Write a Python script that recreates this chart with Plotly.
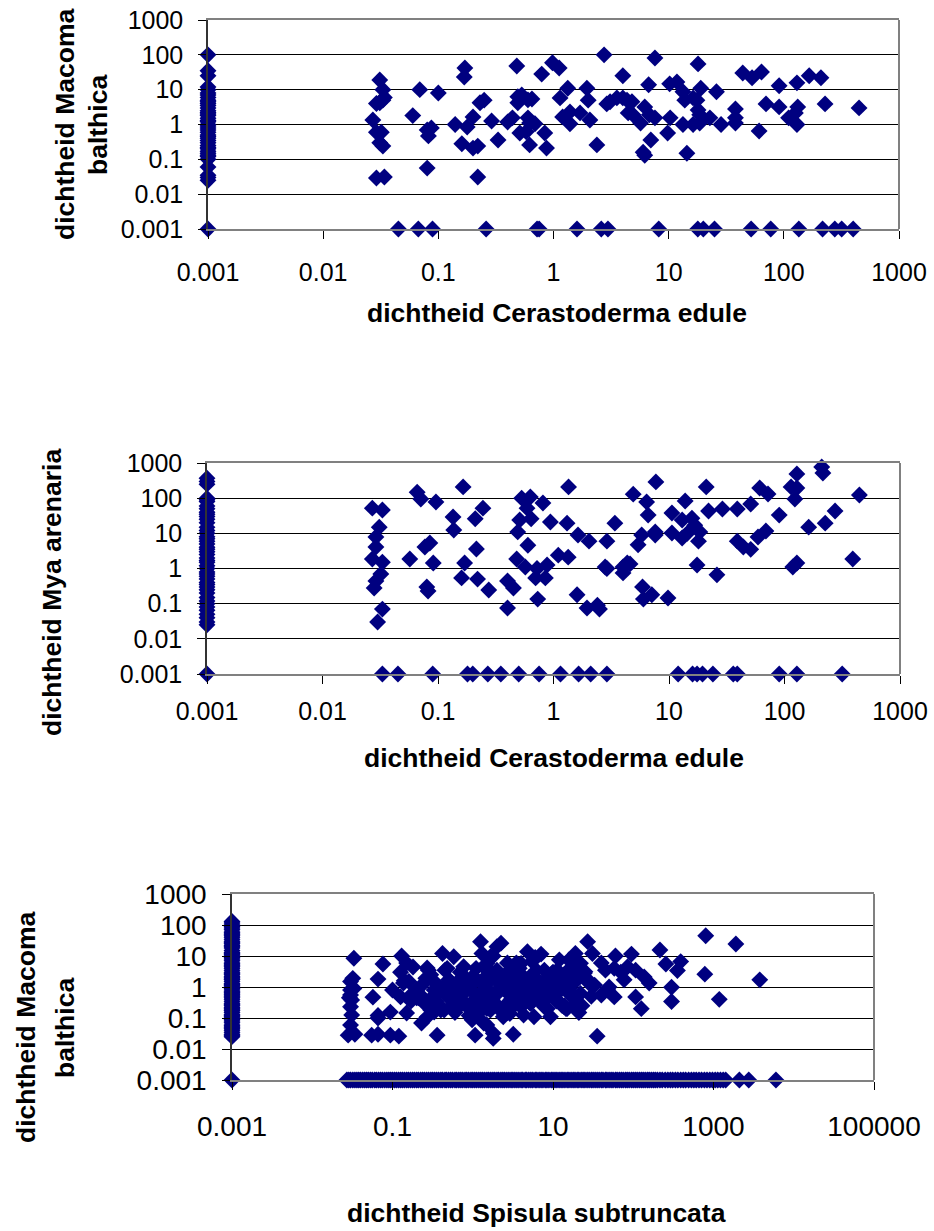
import plotly.graph_objects as go

W, H = 934, 1231
NAVY = "#000080"
FONT = "Liberation Sans, Arial, sans-serif"

# ---------------- Plot 1: Cerastoderma edule vs Macoma balthica ----------------
p1_zero_x_y = [100, 35, 25, 12, 10, 8, 7, 6, 5, 4.5, 4, 3.5, 3, 2.5, 2.2, 2, 1.8, 1.5, 1.3,
               1.2, 1, 0.9, 0.8, 0.7, 0.6, 0.5, 0.45, 0.4, 0.35, 0.3, 0.25, 0.22, 0.2, 0.17,
               0.15, 0.13, 0.12, 0.1, 0.06, 0.035, 0.03, 0.025, 0.001]
p1_zero_y_x = [0.045, 0.067, 0.089, 0.26, 0.72, 0.75, 1.6, 2.6, 2.97, 8.2, 17.9, 20, 25, 52,
               77, 135, 217, 277, 318, 400]
p1_x = [0.031, 0.033, 0.034, 0.033, 0.029, 0.031, 0.027, 0.029, 0.032, 0.031, 0.033, 0.029, 0.034,
        0.06, 0.069, 0.1, 0.08, 0.087, 0.082, 0.08,
        0.14, 0.178, 0.16, 0.17, 0.168, 0.2, 0.2, 0.22, 0.22, 0.23, 0.25, 0.29, 0.33,
        0.48, 0.4, 0.44, 0.49, 0.53, 0.49, 0.6, 0.65, 0.51, 0.58, 0.62, 0.69, 0.6, 0.62, 0.84,
        0.87, 0.79, 0.98, 1.12,
        1.33, 1.14, 1.39, 1.2, 1.39, 1.7, 1.95, 2.0, 2.07, 2.38, 2.75,
        2.9, 3.1, 3.55, 4.0, 4.35, 4.8, 4.45, 4.9, 4.0, 5.7, 6.2, 6.2, 6.0, 7.0, 6.7, 6.8, 7.6,
        7.6, 9.8, 10.2, 11.8, 10.3,
        13.3, 13.8, 16.3, 17.6, 18, 18.6, 13.3, 16.3, 22.8, 18.6, 14.4, 18, 19, 26, 28.5,
        38, 38, 38, 44, 53, 64, 61, 70, 91, 91, 110, 130, 132, 130, 126, 166, 210, 228, 450]
p1_y = [19, 10, 6, 5, 4, 4.2, 1.35, 0.6, 0.6, 0.3, 0.24, 0.029, 0.031,
        1.8, 10, 8, 0.7, 0.8, 0.47, 0.056,
        1.0, 0.85, 0.28, 42, 23, 1.65, 0.21, 0.24, 0.031, 4.2, 5, 1.26, 0.36,
        48, 1.18, 1.55, 6.3, 7.0, 4.2, 5.1, 5.4, 0.57, 0.62, 1.1, 1.05, 1.55, 0.26, 0.57,
        0.21, 28, 59, 42,
        11, 5.8, 2.3, 1.65, 1.05, 2.15, 11, 5, 1.35, 0.26, 100,
        3.9, 4.5, 5.8, 5.8, 5.0, 4.5, 2.15, 1.9, 25, 1.1, 3.2, 0.13, 0.16, 0.36, 13.8, 1.9, 1.55,
        81, 0.57, 14.7, 16.7, 1.55,
        8.7, 5.0, 5.8, 5.0, 2.6, 1.9, 1.0, 1.0, 1.55, 1.1, 0.15, 55, 11, 8.7, 1.0,
        2.8, 1.55, 1.1, 30, 22, 32, 0.65, 3.9, 13, 3.2, 1.55, 15.7, 3.2, 1.0, 2.15, 25, 22, 3.9, 3.0]

# ---------------- Plot 2: Cerastoderma edule vs Mya arenaria ----------------
p2_zero_x_y = [370, 300, 250, 100, 90, 80, 60, 50, 40, 35, 30, 25, 20, 15, 12, 10, 8, 7, 6, 5, 4,
               3.5, 3, 2.5, 2, 1.7, 1.5, 1.2, 1, 0.8, 0.7, 0.6, 0.5, 0.4, 0.35, 0.3, 0.25, 0.2,
               0.15, 0.12, 0.1, 0.08, 0.065, 0.05, 0.04, 0.03, 0.025, 0.001]
p2_zero_y_x = [0.033, 0.045, 0.09, 0.18, 0.2, 0.27, 0.35, 0.5, 0.75, 1.15, 1.65, 2.1, 2.9, 12,
               16, 17.5, 19.5, 24, 36, 39, 90, 128, 316]
p2_x = [0.027, 0.033, 0.031, 0.029, 0.029, 0.027, 0.033, 0.032, 0.029, 0.028, 0.033, 0.03,
        0.066, 0.071, 0.096, 0.057, 0.077, 0.085, 0.091, 0.08, 0.082,
        0.165, 0.135, 0.137, 0.245, 0.21, 0.215, 0.17, 0.16, 0.22, 0.275, 0.4, 0.45, 0.4,
        0.53, 0.63, 0.59, 0.64, 0.51, 0.49, 0.6, 0.48, 0.57, 0.72, 0.7, 0.85, 0.73, 0.81, 0.94,
        0.88, 1.1,
        1.35, 1.31, 1.34, 1.63, 2.03, 1.6, 1.95, 2.5, 2.4, 2.9, 3.4, 2.8, 2.9, 4.0, 4.35, 4.6,
        4.0, 4.9, 6.4, 6.6, 5.4, 5.8, 7.6, 7.6, 7.7, 5.9, 6.0, 7.1, 9.8, 10.6, 10.6,
        13.8, 13, 15.8, 16.7, 18.5, 18, 14.4, 13, 17.5, 21, 22, 29, 26, 39, 39, 44, 51, 51,
        61, 72, 59, 69, 90, 114, 128, 128, 123, 118, 128, 162, 210, 215, 225, 274, 390, 445]
p2_y = [52, 46, 15, 7.9, 4.1, 1.86, 1.5, 0.7, 0.44, 0.28, 0.07, 0.03,
        148, 95, 78, 1.86, 4.1, 5.3, 1.43, 0.3, 0.23,
        209, 29, 12.4, 52, 26, 3.6, 1.43, 0.54, 0.5, 0.245, 0.44, 0.28, 0.075,
        100, 108, 52, 26, 24, 11, 4.6, 1.86, 1.1, 1.0, 0.54, 0.54, 0.135, 73, 21,
        1.26, 2.4,
        209, 19.5, 2.1, 9, 6, 0.18, 0.075, 0.07, 0.09, 6, 19.5, 1.1, 1.0, 1.1, 1.43, 1.35,
        0.75, 130, 78, 33, 4.7, 9, 11, 9, 290, 0.3, 0.135, 0.18, 0.145, 38, 10.2,
        83, 24, 27, 17, 11, 6, 10, 7.4, 1.26, 209, 43, 49, 0.66, 49, 6, 4.1, 3.5, 68,
        195, 132, 7.9, 11.7, 33, 209, 195, 490, 95, 1.1, 1.43, 15, 770, 520, 19.5, 43, 1.86, 123]

# ---------------- Plot 3: Spisula subtruncata vs Macoma balthica ----------------
p3_zero_x_y = [130, 115, 100, 90, 80, 70, 60, 55, 50, 45, 40, 35, 30, 27, 25, 22, 20, 18, 15, 13,
               12, 11, 10, 9, 8, 7, 6, 5.5, 5, 4.5, 4, 3.5, 3, 2.7, 2.5, 2.2, 2, 1.8, 1.7, 1.5,
               1.3, 1.2, 1.1, 1, 0.9, 0.8, 0.7, 0.65, 0.6, 0.55, 0.5, 0.45, 0.4, 0.35, 0.3, 0.27,
               0.25, 0.22, 0.2, 0.18, 0.17, 0.15, 0.13, 0.12, 0.11, 0.1, 0.09, 0.08, 0.07, 0.06,
               0.055, 0.05, 0.045, 0.04, 0.035, 0.03, 0.028, 0.025, 0.001]
p3_zero_y_x = [0.027, 0.0285, 0.03, 0.032, 0.034, 0.036, 0.038, 0.04, 0.0425, 0.045, 0.0475,
               0.05, 0.053, 0.056, 0.06, 0.063, 0.067, 0.071, 0.075, 0.08, 0.085, 0.09, 0.095,
               0.1, 0.106, 0.112, 0.119, 0.126, 0.133, 0.141, 0.15, 0.158, 0.168, 0.178, 0.188,
               0.2, 0.21, 0.224, 0.237, 0.25, 0.266, 0.282, 0.3, 0.316, 0.335, 0.355, 0.376, 0.4,
               0.42, 0.45, 0.47, 0.5, 0.53, 0.56, 0.6, 0.63, 0.67, 0.71, 0.75, 0.8, 0.84, 0.89,
               0.95, 1, 1.06, 1.12, 1.19, 1.26, 1.33, 1.41, 1.5, 1.58, 1.68, 1.78, 1.88, 2, 2.1,
               2.24, 2.37, 2.5, 2.66, 2.82, 3, 3.16, 3.35, 3.55, 3.76, 4, 4.2, 4.5, 4.7, 5, 5.3,
               5.6, 6, 6.3, 6.7, 7.1, 7.5, 8, 8.4, 8.9, 9.5, 10, 10.6, 11.2, 11.9, 12.6, 13.3,
               14.1, 15, 15.8, 16.8, 17.8, 18.8, 20, 21, 22.4, 23.7, 25, 26.6, 28.2, 30, 31.6,
               33.5, 35.5, 37.6, 40, 42, 45, 47, 50, 53, 56, 60, 63, 67, 71, 75, 80, 84, 89, 95,
               100, 106, 112, 119, 126, 133, 141, 150, 158, 168, 178, 188, 200, 215, 230, 250,
               270, 290, 310, 335, 360, 390, 420, 450, 490, 530, 570, 610, 660, 710, 770, 830,
               900, 970, 1050, 1130, 1220, 1320, 1420, 2100, 2750, 6000]
p3_x = [0.033, 0.032, 0.03, 0.03, 0.03, 0.031, 0.03, 0.031, 0.03, 0.028, 0.034, 0.033, 0.029,
        0.076, 0.066, 0.057, 0.066, 0.066, 0.055, 0.066, 0.094, 0.12, 0.094,
        0.13, 0.15, 0.126, 0.18, 0.137, 0.15, 0.126, 0.1, 0.2, 0.17,
        0.23, 0.27, 0.36, 0.33, 0.27, 0.27, 0.24, 0.3,
        0.42, 0.58, 0.48, 0.5, 0.4, 0.58, 0.44, 0.67, 0.77, 0.85, 0.98, 1.07, 1.25, 1.3, 1.5,
        1.13, 1.37, 1.5, 1.8, 1.66, 2.0, 1.74, 1.37, 1.66,
        2.25, 1.8, 1.5, 2.0, 1.66, 2.2, 1.9, 2.5, 1.8, 2.4, 1.5, 1.8, 3.2,
        4.8, 7.1, 5.5, 4.0, 3.3, 4.3, 5.8, 7.8, 9.8, 11.3, 3.6, 5.2, 7.0, 9.3, 12.4, 3.3, 4.3,
        6.3, 8.5, 11.3, 4.0, 5.2, 7.8, 13.8, 4.3, 5.8, 9.3, 15, 18, 21,
        15.8, 19, 22, 18, 24.5, 27, 31, 28, 22, 20, 35.5,
        60, 95, 45, 58, 85, 107, 137, 158, 77, 48, 58, 107, 126,
        215, 255, 390, 355, 300, 300, 800, 1900, 780, 1180, 3770,
        0.16, 0.19, 0.22, 0.25, 0.28, 0.32, 0.35, 0.38, 0.45, 0.55, 0.62, 0.7, 0.75, 0.9, 0.95,
        1.1, 1.2, 1.4, 1.6, 1.9, 2.3, 2.6, 2.8, 3.0, 3.5, 3.8, 4.5, 5.0, 6.0, 6.5, 7.5, 8.0,
        10, 11, 13, 14, 16, 2.1, 2.7, 1.2, 0.6, 0.35, 0.52, 0.8, 1.0, 1.15, 2.9, 3.4, 0.3,
        0.21, 0.47, 0.65, 1.05, 1.75, 2.45, 3.1, 4.2, 5.5, 6.8, 8.8, 12, 14.5, 17, 25, 33, 40,
        0.5, 0.55, 0.6, 0.65, 0.7, 0.8, 0.85, 0.9, 1.0, 1.0, 1.1, 1.2, 1.3, 1.4, 1.5, 1.6, 1.7,
        1.9, 2.0, 2.2, 2.4, 2.6, 2.8, 3.0, 3.2, 3.4, 3.7, 4.0, 4.2, 4.6, 5, 5.3, 5.8, 6.2, 7,
        7.5, 8.5, 9, 10, 11, 12, 13, 16, 17, 19, 23, 26, 30, 0.3, 0.33, 0.26, 0.2, 0.14, 0.17,
        0.4, 0.45, 0.9, 2.7, 3.5, 6, 12, 15, 40, 50, 70]
p3_y = [8.5, 1.9, 1.5, 0.8, 0.55, 0.38, 0.23, 0.125, 0.059, 0.028, 0.03, 0.9, 0.45,
        5.5, 1.8, 0.47, 0.12, 0.1, 0.028, 0.03, 0.028, 0.026, 0.155,
        10, 5.9, 3.0, 4.4, 1.35, 0.145, 0.48, 0.8, 0.8, 0.55,
        0.069, 0.107, 0.028, 0.155, 4.1, 1.7, 0.45, 0.3,
        12, 9.5, 4.0, 1.7, 0.8, 0.55, 0.18, 0.23, 4.5, 1.7, 0.087, 0.028, 29, 12, 5.8,
        1.7, 0.8, 0.38, 0.032, 9.5, 20, 2.8, 0.069, 0.18,
        26, 10, 3.5, 3.5, 1.7, 1.35, 0.65, 0.8, 0.23, 0.11, 0.06, 0.022, 0.03,
        13.8, 11.5, 6.6, 5.8, 3.5, 2.1, 2.1, 3.5, 2.8, 3.5, 1.35, 1.0, 1.35, 1.0, 0.8, 0.55, 0.55,
        0.62, 0.48, 0.38, 0.23, 0.3, 0.23, 0.23, 0.125, 0.11, 0.11, 0.2, 0.26, 0.15,
        7.4, 12, 5.8, 3.5, 2.8, 29, 12, 1.35, 0.62, 1.7, 0.026,
        10, 11.5, 3.5, 4.0, 4.5, 3.5, 2.1, 1.35, 1.7, 0.8, 0.48, 0.48, 0.2,
        15.6, 5.5, 6.6, 3.4, 0.98, 0.34, 45, 24.5, 2.6, 0.4, 1.7,
        1.5, 0.6, 1.0, 0.3, 3.5, 0.5, 1.3, 0.25, 0.7, 1.1, 0.45, 3.0, 0.6, 1.5, 0.3,
        4.0, 0.55, 1.1, 0.5, 2.5, 1.2, 0.25, 3.2, 0.9, 0.45, 4.0, 0.4, 2.0, 0.8, 1.5, 0.35, 0.95,
        2.5, 0.75, 1.5, 0.25, 0.6, 0.2, 0.15, 0.15, 0.15, 0.35, 1.6, 0.7, 1.4, 0.22, 0.14, 0.3,
        0.18, 0.45, 1.2, 0.8, 0.13, 0.38, 2.1, 0.28, 1.1, 0.55, 0.35, 2.2, 0.8, 0.2, 1.3, 3.1,
        1.15, 0.55, 0.45,
        0.25, 0.5, 0.9, 1.8, 0.3, 1.25, 0.2, 0.7, 2.2, 0.16, 0.35, 1.6, 0.5, 0.2, 0.75, 3.0, 0.3,
        0.6, 1.2, 0.22, 2.0, 0.7, 0.4, 1.4, 0.28, 0.6, 2.5, 0.4, 0.9, 1.5, 0.3, 0.7, 3.5, 0.45,
        1.3, 0.2, 0.65, 3.0, 0.35, 1.2, 0.25, 0.9, 2.2, 0.45, 0.25, 1.9, 0.5, 2.5, 0.8, 1.9,
        0.45, 1.6, 0.35, 0.18, 3.5, 0.12, 6, 6, 9, 7.5, 3.2, 6, 1.0, 3, 0.6]

ticks_decade = [0.001, 0.01, 0.1, 1, 10, 100, 1000]
ticks_decade_text = ["0.001", "0.01", "0.1", "1", "10", "100", "1000"]
ticks_p3x = [0.001, 0.1, 10, 1000, 100000]
ticks_p3x_text = ["0.001", "0.1", "10", "1000", "100000"]

ZERO = 0.001


def px_x(p):
    return p / W


def px_y(p):
    return 1 - p / H


fig = go.Figure()


def add_series(xs, ys, zx_y, zy_x, xa, ya):
    X = [ZERO] * len(zx_y) + list(zy_x) + list(xs)
    Y = list(zx_y) + [ZERO] * len(zy_x) + list(ys)
    fig.add_trace(go.Scatter(
        x=X, y=Y, mode="markers", xaxis=xa, yaxis=ya, cliponaxis=False,
        marker=dict(symbol="diamond", size=13, color=NAVY, line=dict(width=0)),
        hoverinfo="x+y", showlegend=False))


add_series(p1_x, p1_y, p1_zero_x_y, p1_zero_y_x, "x", "y")
add_series(p2_x, p2_y, p2_zero_x_y, p2_zero_y_x, "x2", "y2")
add_series(p3_x, p3_y, p3_zero_x_y, p3_zero_y_x, "x3", "y3")

# plot-area rectangles in pixels: (left, right, top, bottom)
boxes = [(208, 899, 20, 229), (207, 900, 463, 674), (232, 874, 894, 1080)]
tick_fonts = [25, 25, 28]
x_standoff = [12, 6, 12]

layout = dict(width=W, height=H, margin=dict(l=0, r=0, t=0, b=0, pad=0, autoexpand=False),
              paper_bgcolor="white", plot_bgcolor="white", showlegend=False,
              font=dict(family=FONT, color="black"))

shapes = []
for i, (l, r, t, b) in enumerate(boxes):
    sfx = "" if i == 0 else str(i + 1)
    xr = [-3, 5] if i == 2 else [-3, 3]
    tv = ticks_p3x if i == 2 else ticks_decade
    tt = ticks_p3x_text if i == 2 else ticks_decade_text
    layout["xaxis" + sfx] = dict(
        type="log", range=xr, domain=[px_x(l), px_x(r)], anchor="y" + sfx,
        tickmode="array", tickvals=tv, ticktext=tt, ticks="outside", ticklen=8,
        tickcolor="black", tickwidth=1, showgrid=False, zeroline=False,
        showline=True, linecolor="#808080", linewidth=2, mirror=True,
        tickfont=dict(size=tick_fonts[i], family=FONT, color="black"),
        ticklabelstandoff=x_standoff[i], fixedrange=True, automargin=False)
    layout["yaxis" + sfx] = dict(
        type="log", range=[-3, 3], domain=[px_y(b), px_y(t)], anchor="x" + sfx,
        tickmode="array", tickvals=ticks_decade, ticktext=ticks_decade_text,
        ticks="outside", ticklen=8, tickcolor="black", tickwidth=1,
        showgrid=True, gridcolor="black", gridwidth=1, zeroline=False,
        showline=True, linecolor="#333333", linewidth=1.5,
        tickfont=dict(size=tick_fonts[i], family=FONT, color="black"),
        ticklabelstandoff=10, fixedrange=True, automargin=False)
    shapes.append(dict(type="line", xref="x" + sfx + " domain", yref="y" + sfx + " domain",
                       x0=1, x1=1, y0=0, y1=1, line=dict(color="#808080", width=2),
                       layer="above"))

layout["shapes"] = shapes

TF = dict(family=FONT, size=26.5, color="black", weight="bold")
ann = []


def title(text, cx, cy, angle=0):
    ann.append(dict(text=text, x=px_x(cx), y=px_y(cy), xref="paper", yref="paper",
                    xanchor="center", yanchor="middle", showarrow=False,
                    textangle=angle, font=TF))


title("dichtheid Cerastoderma edule", 557, 313)
title("dichtheid Cerastoderma edule", 554, 758)
title("dichtheid Spisula subtruncata", 536, 1213)
title("dichtheid Macoma", 65, 125, -90)
title("balthica", 98, 125, -90)
title("dichtheid Mya arenaria", 52, 593, -90)
title("dichtheid Macoma", 26, 1028, -90)
title("balthica", 65, 1028, -90)
layout["annotations"] = ann

fig.update_layout(**layout)
fig.write_html("out.html")
